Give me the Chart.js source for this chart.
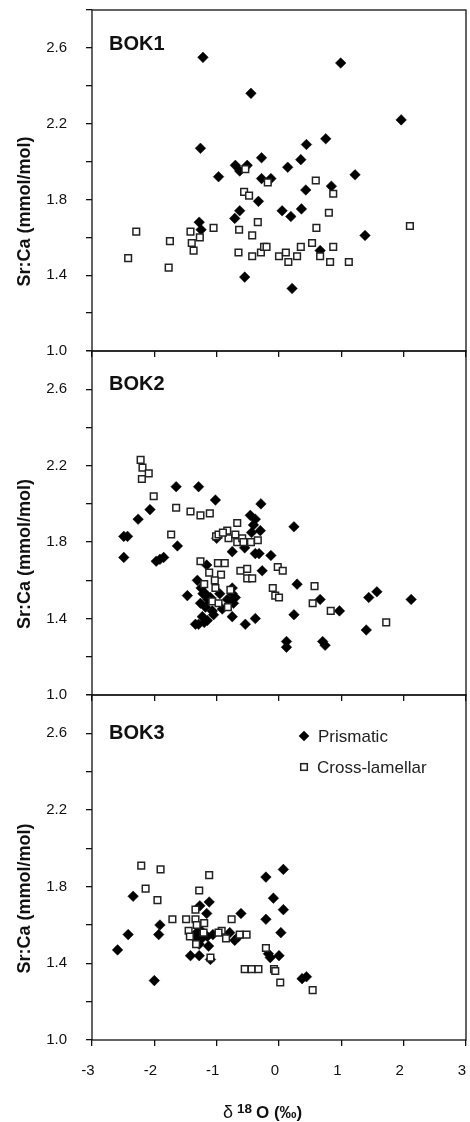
<!DOCTYPE html>
<html>
<head>
<meta charset="utf-8">
<title>Sr:Ca vs δ18O – BOK1, BOK2, BOK3</title>
<script src="https://cdn.jsdelivr.net/npm/chart.js@4.4.1/dist/chart.umd.min.js"></script>
<style>
  html, body { margin: 0; padding: 0; background: #fff; }
  #wrap { position: relative; width: 470px; height: 1122px; }
  #wrap canvas { position: absolute; left: 0; }
</style>
</head>
<body>
<div id="wrap">
  <canvas id="bok1" width="470" height="360" style="top:0px"></canvas>
  <canvas id="bok2" width="470" height="359" style="top:345px"></canvas>
  <canvas id="bok3" width="470" height="433" style="top:689px"></canvas>
</div>
<script>
const FONT = '"Liberation Sans", Arial, Helvetica, sans-serif';
Chart.defaults.font.family = FONT;
Chart.defaults.color = '#111';

// axis ranges / labels
const X_MIN = -3, X_MAX = 3, X_STEP = 1;
const Y_MIN = 1.0, Y_MAX = 2.8, Y_STEP = 0.2;
const Y_LABELED = [1.0, 1.4, 1.8, 2.2, 2.6];
const Y_TITLE = 'Sr:Ca (mmol/mol)';
const SERIES = ['Prismatic', 'Cross-lamellar'];

// [δ18O, Sr:Ca]
const bok1Prismatic = [
  [-1.22, 2.55], [0.99, 2.52], [-0.45, 2.36], [1.96, 2.22], [-1.26, 2.07], [0.75, 2.12],
  [0.44, 2.09], [0.35, 2.01], [-0.28, 2.02], [0.14, 1.97], [-0.70, 1.98], [-0.51, 1.98],
  [-0.63, 1.95], [-0.97, 1.92], [1.22, 1.93], [-0.28, 1.91], [-0.13, 1.91], [0.43, 1.85],
  [0.84, 1.87], [-0.33, 1.79], [-0.63, 1.74], [-0.71, 1.70], [0.05, 1.74], [0.19, 1.71],
  [0.36, 1.75], [-1.28, 1.68], [-1.25, 1.64], [1.38, 1.61], [0.66, 1.53], [-0.55, 1.39],
  [0.21, 1.33]
];
const bok1Cross = [
  [-2.42, 1.49], [-2.29, 1.63], [-1.77, 1.44], [-1.75, 1.58], [-1.42, 1.63], [-1.40, 1.57],
  [-1.37, 1.53], [-1.27, 1.60], [-1.05, 1.65], [-0.65, 1.52], [-0.64, 1.64], [-0.54, 1.96],
  [-0.56, 1.84], [-0.48, 1.82], [-0.43, 1.61], [-0.43, 1.50], [-0.34, 1.68], [-0.29, 1.52],
  [-0.24, 1.55], [-0.20, 1.55], [-0.18, 1.89], [0.00, 1.50], [0.11, 1.52], [0.15, 1.47],
  [0.29, 1.50], [0.35, 1.55], [0.53, 1.57], [0.59, 1.90], [0.60, 1.65], [0.66, 1.50],
  [0.80, 1.73], [0.82, 1.47], [0.87, 1.55], [0.87, 1.83], [1.12, 1.47], [2.10, 1.66]
];

const bok2Prismatic = [
  [-2.49, 1.83], [-2.43, 1.83], [-2.49, 1.72], [-2.26, 1.92], [-2.07, 1.97], [-1.97, 1.70],
  [-1.91, 1.71], [-1.85, 1.72], [-1.65, 2.09], [-1.63, 1.78], [-1.29, 2.09], [-1.02, 2.02],
  [-1.00, 1.82], [-0.29, 2.00], [0.24, 1.88], [-0.46, 1.94], [-0.38, 1.92], [-0.41, 1.89],
  [-0.30, 1.86], [-0.44, 1.85], [-0.75, 1.75], [-0.55, 1.77], [-0.38, 1.74], [-0.32, 1.74],
  [-0.13, 1.73], [-0.27, 1.65], [-1.16, 1.68], [-1.47, 1.52], [-1.31, 1.60], [-1.25, 1.56],
  [-1.18, 1.53], [-1.10, 1.51], [-1.26, 1.48], [-1.18, 1.46], [-1.07, 1.44], [-1.23, 1.41],
  [-1.15, 1.39], [-1.29, 1.37], [-1.34, 1.37], [-1.20, 1.38], [-1.05, 1.42], [-0.95, 1.53],
  [-0.91, 1.45], [-1.14, 1.50], [-1.22, 1.53], [-0.75, 1.56], [-0.75, 1.53], [-0.70, 1.51],
  [-0.83, 1.50], [-0.73, 1.48], [-0.75, 1.41], [-0.54, 1.37], [-0.38, 1.40], [0.29, 1.58],
  [0.24, 1.42], [0.12, 1.28], [0.12, 1.25], [0.66, 1.50], [0.70, 1.28], [0.74, 1.26],
  [0.97, 1.44], [1.40, 1.34], [1.44, 1.51], [1.57, 1.54], [2.12, 1.50]
];
const bok2Cross = [
  [-2.22, 2.23], [-2.19, 2.19], [-2.09, 2.16], [-2.20, 2.13], [-2.01, 2.04], [-1.65, 1.98],
  [-1.73, 1.84], [-1.42, 1.96], [-1.26, 1.94], [-1.11, 1.95], [-1.01, 1.83], [-0.97, 1.84],
  [-0.83, 1.86], [-0.81, 1.82], [-0.70, 1.84], [-0.67, 1.80], [-0.59, 1.82], [-0.57, 1.80],
  [-0.45, 1.80], [-0.34, 1.81], [-0.67, 1.90], [-0.90, 1.85], [-1.26, 1.70], [-0.98, 1.69],
  [-0.87, 1.69], [-1.12, 1.64], [-0.93, 1.63], [-0.62, 1.65], [-0.51, 1.66], [-0.51, 1.61],
  [-0.43, 1.61], [-0.02, 1.67], [0.06, 1.65], [-1.03, 1.60], [-1.02, 1.56], [-0.78, 1.55],
  [-1.20, 1.58], [-1.07, 1.49], [-0.97, 1.48], [-0.82, 1.46], [-0.10, 1.56], [-0.06, 1.52],
  [0.00, 1.51], [0.57, 1.57], [0.54, 1.48], [0.83, 1.44], [1.72, 1.38]
];

const bok3Prismatic = [
  [-2.59, 1.47], [-2.42, 1.55], [-2.34, 1.75], [-2.00, 1.31], [-1.93, 1.55], [-1.91, 1.60],
  [-1.42, 1.44], [-1.28, 1.44], [-1.27, 1.70], [-1.16, 1.66], [-1.12, 1.72], [-1.32, 1.56],
  [-1.24, 1.53], [-1.28, 1.50], [-1.34, 1.53], [-1.15, 1.54], [-1.06, 1.55], [-1.13, 1.49],
  [-1.10, 1.42], [-1.25, 1.57], [-0.79, 1.56], [-0.71, 1.52], [-0.65, 1.54], [-0.61, 1.66],
  [-0.21, 1.85], [0.07, 1.89], [-0.09, 1.74], [-0.21, 1.63], [0.07, 1.68], [0.03, 1.56],
  [-0.17, 1.45], [-0.14, 1.43], [0.00, 1.44], [0.37, 1.32], [0.44, 1.33]
];
const bok3Cross = [
  [-2.21, 1.91], [-1.90, 1.89], [-1.12, 1.86], [-2.14, 1.79], [-1.95, 1.73], [-1.28, 1.78],
  [-1.71, 1.63], [-1.49, 1.63], [-1.34, 1.68], [-1.34, 1.63], [-1.20, 1.61], [-1.32, 1.60],
  [-1.45, 1.57], [-1.43, 1.54], [-1.33, 1.50], [-1.21, 1.56], [-0.76, 1.63], [-0.92, 1.57],
  [-0.97, 1.56], [-0.85, 1.53], [-0.63, 1.55], [-0.52, 1.55], [-1.10, 1.43], [-0.21, 1.48],
  [-0.55, 1.37], [-0.44, 1.37], [-0.33, 1.37], [-0.08, 1.37], [-0.06, 1.36], [0.02, 1.30],
  [0.54, 1.26]
];

const toXY = arr => arr.map(([x, y]) => ({ x, y }));

function drawDiamond(ctx, x, y, r) {
  ctx.beginPath();
  ctx.moveTo(x, y - r); ctx.lineTo(x + r, y); ctx.lineTo(x, y + r); ctx.lineTo(x - r, y);
  ctx.closePath();
  ctx.fillStyle = '#000';
  ctx.fill();
}
function drawSquare(ctx, x, y, s) {
  ctx.fillStyle = '#fff';
  ctx.fillRect(x - s / 2, y - s / 2, s, s);
  ctx.strokeStyle = '#222';
  ctx.lineWidth = 1.5;
  ctx.strokeRect(x - s / 2, y - s / 2, s, s);
}

// frame, panel name, y title, legend, x title
const decor = {
  id: 'decor',
  afterDraw(chart, args, o) {
    const { ctx, chartArea: a } = chart;
    ctx.save();
    ctx.strokeStyle = '#111';
    ctx.lineWidth = 1.3;
    ctx.strokeRect(a.left, a.top, a.right - a.left, a.bottom - a.top);

    ctx.fillStyle = '#111';
    ctx.textAlign = 'left';
    ctx.textBaseline = 'middle';
    ctx.font = 'bold 20px ' + FONT;
    ctx.fillText(o.name, a.left + 17, a.top + o.nameDy);

    ctx.save();
    ctx.translate(25.5, (a.top + a.bottom) / 2 + 31);
    ctx.rotate(-Math.PI / 2);
    ctx.textAlign = 'center';
    ctx.font = 'bold 18px ' + FONT;
    ctx.fillText(Y_TITLE, 0, 0);
    ctx.restore();

    if (o.legend) {
      const lx = 304;
      drawDiamond(ctx, lx, a.top + 41, 5.3);
      drawSquare(ctx, lx, a.top + 72, 6.6);
      ctx.fillStyle = '#222';
      ctx.font = '17px ' + FONT;
      ctx.fillText(SERIES[0], lx + 14, a.top + 42);
      ctx.fillText(SERIES[1], lx + 13, a.top + 73.5);
    }

    if (o.xTitle) {
      const y = a.bottom + 78;
      ctx.fillStyle = '#111';
      ctx.textBaseline = 'alphabetic';
      ctx.font = '18px ' + FONT;
      ctx.fillText('δ', 223, y);
      ctx.font = 'bold 13.5px ' + FONT;
      ctx.fillText('18', 237, y - 5.5);
      ctx.font = 'bold 17px ' + FONT;
      ctx.fillText('O (‰)', 256, y);
    }
    ctx.restore();
  }
};

function makePanel(id, name, prism, cross, opt) {
  const grid = {
    drawOnChartArea: false,
    drawTicks: true,
    tickLength: 6,
    color: '#111',
    lineWidth: 1.3,
  };
  return new Chart(document.getElementById(id), {
    type: 'scatter',
    data: {
      datasets: [
        {
          label: SERIES[1],
          data: toXY(cross),
          order: 0,
          pointStyle: 'rect',
          pointRadius: 4.7,
          pointBackgroundColor: '#fff',
          pointBorderColor: '#222',
          pointBorderWidth: 1.5,
        },
        {
          label: SERIES[0],
          data: toXY(prism),
          order: 1,
          pointStyle: 'rectRot',
          pointRadius: 5.3,
          pointBackgroundColor: '#000',
          pointBorderColor: '#000',
          pointBorderWidth: 0.5,
        },
      ],
    },
    options: {
      responsive: false,
      animation: false,
      events: [],
      layout: { autoPadding: false, padding: { top: opt.padTop, right: 4, left: 0, bottom: 0 } },
      plugins: {
        legend: { display: false },
        tooltip: { enabled: false },
        decor: { name, nameDy: opt.nameDy, legend: opt.legend, xTitle: opt.xTitle },
      },
      scales: {
        x: {
          type: 'linear',
          position: 'bottom',
          min: X_MIN,
          max: X_MAX,
          grid,
          border: { display: false },
          ticks: {
            display: opt.xTitle,
            stepSize: X_STEP,
            color: '#111',
            font: { size: 15 },
            padding: 16,
            labelOffset: -4,
            maxRotation: 0,
            autoSkip: false,
            callback: v => String(v),
          },
          afterFit: s => {
            s.height = opt.xHeight;
            s.paddingLeft = s.paddingRight = s.paddingTop = s.paddingBottom = 0;
          },
        },
        y: {
          type: 'linear',
          min: Y_MIN,
          max: Y_MAX,
          grid,
          border: { display: false },
          ticks: {
            stepSize: Y_STEP,
            color: '#111',
            font: { size: 15 },
            padding: 19,
            autoSkip: false,
            callback: v => {
              const hit = Y_LABELED.some(t => Math.abs(t - v) < 1e-6);
              return hit ? v.toFixed(1) : '';
            },
          },
          afterFit: s => {
            s.width = 92;
            s.paddingLeft = s.paddingRight = s.paddingTop = s.paddingBottom = 0;
          },
        },
      },
    },
    plugins: [decor],
  });
}

makePanel('bok1', 'BOK1', bok1Prismatic, bok1Cross, { padTop: 10, xHeight: 9, nameDy: 34, legend: false, xTitle: false });
makePanel('bok2', 'BOK2', bok2Prismatic, bok2Cross, { padTop: 6, xHeight: 9, nameDy: 33, legend: false, xTitle: false });
makePanel('bok3', 'BOK3', bok3Prismatic, bok3Cross, { padTop: 6, xHeight: 82, nameDy: 38, legend: true, xTitle: true });
</script>
</body>
</html>
